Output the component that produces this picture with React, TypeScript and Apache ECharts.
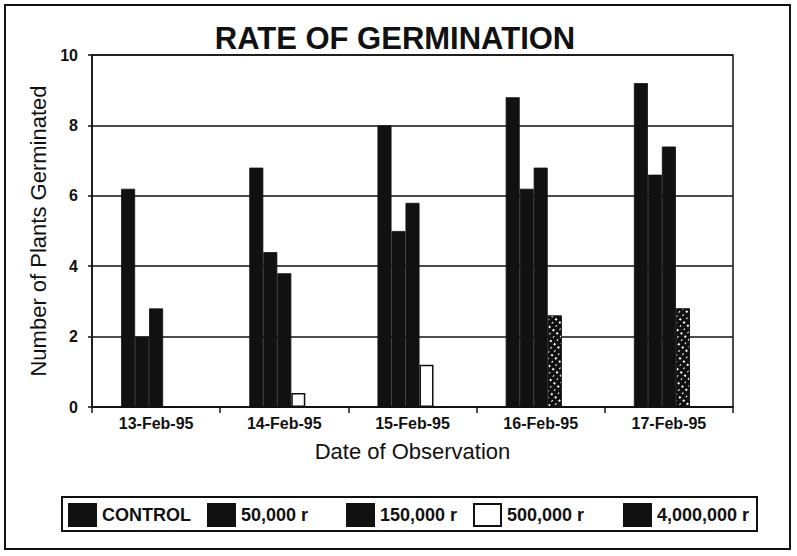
import React, { useEffect, useRef } from "react";
import * as echarts from "echarts";

const dates = ["13-Feb-95", "14-Feb-95", "15-Feb-95", "16-Feb-95", "17-Feb-95"];
const seriesNames = ["CONTROL", "50,000 r", "150,000 r", "500,000 r", "4,000,000 r"];
const control = [6.2, 6.8, 8.0, 8.8, 9.2];
const dose50k = [2.0, 4.4, 5.0, 6.2, 6.6];
const dose150k = [2.8, 3.8, 5.8, 6.8, 7.4];
const dose500k = [0, 0.4, 1.2, 2.6, 2.8];
const dose4m = [0, 0, 0, 0, 0];
const yTicks = [0, 2, 4, 6, 8, 10];
const legendLeft = [68, 207, 346, 473, 623];

const INK = "#111111";
const FONT = "'Liberation Sans', Arial, sans-serif";

export default function App() {
  const ref = useRef<HTMLDivElement>(null);

  useEffect(() => {
    if (!ref.current) return;
    const chart = echarts.init(ref.current, undefined, { renderer: "svg" });

    const solid = { color: INK, borderColor: INK, borderWidth: 0.8 };
    // dark fill flecked with white for the later 500,000 r readings
    const speckle = {
      color: INK,
      borderColor: INK,
      borderWidth: 0.8,
      decal: {
        symbol: "rect",
        symbolSize: 1,
        color: "#ffffff",
        dashArrayX: [[2, 3], [1, 4]],
        dashArrayY: [2, 3],
        rotation: 0.7,
      },
    };

    const series500k = dose500k.map((v, i) =>
      i >= 3 ? { value: v, itemStyle: speckle } : { value: v }
    );

    const bar = (name: string, data: any[], itemStyle: any) => ({
      type: "bar",
      name,
      data,
      barWidth: 14,
      barGap: "0%",
      itemStyle,
    });

    chart.setOption({
      animation: false,
      backgroundColor: "#ffffff",
      aria: { enabled: true, decal: { show: false } },
      title: {
        text: "RATE OF GERMINATION",
        left: 390,
        top: 18,
        textAlign: "center",
        textStyle: { fontFamily: FONT, fontSize: 31, fontWeight: "bold", color: INK },
      },
      legend: seriesNames.map((n, i) => ({
        data: [n],
        left: legendLeft[i],
        top: 503,
        padding: 0,
        icon: "rect",
        itemWidth: 27,
        itemHeight: 22,
        selectedMode: false,
        textStyle: { fontFamily: FONT, fontSize: 18, fontWeight: "bold", color: INK, padding: [0, 0, 0, 1] },
      })),
      grid: {
        left: 92,
        right: 64,
        top: 55,
        bottom: 149,
        show: true,
        borderColor: INK,
        borderWidth: 1.5,
      },
      xAxis: {
        type: "category",
        data: dates,
        name: "Date of Observation",
        nameLocation: "middle",
        nameGap: 33,
        nameTextStyle: { fontFamily: FONT, fontSize: 22, color: INK },
        axisLine: { lineStyle: { color: INK, width: 1.5 } },
        axisTick: { show: true, length: 6, lineStyle: { color: INK, width: 1.5 } },
        axisLabel: { fontFamily: FONT, fontSize: 16, fontWeight: "bold", color: INK, margin: 8 },
      },
      yAxis: {
        type: "value",
        min: 0,
        max: 10,
        interval: 2,
        name: "Number of Plants Germinated",
        nameLocation: "middle",
        nameGap: 43,
        nameTextStyle: { fontFamily: FONT, fontSize: 22, color: INK },
        axisLine: { show: true, lineStyle: { color: INK, width: 1.5 } },
        axisTick: { show: true, length: 4, lineStyle: { color: INK, width: 1.5 } },
        axisLabel: {
          fontFamily: FONT,
          fontSize: 16,
          fontWeight: "bold",
          color: INK,
          margin: 14,
          formatter: (v: number) => (yTicks.includes(v) ? String(v) : ""),
        },
        splitLine: { show: true, lineStyle: { color: INK, width: 1.5 } },
      },
      series: [
        bar(seriesNames[0], control, solid),
        bar(seriesNames[1], dose50k, solid),
        bar(seriesNames[2], dose150k, solid),
        bar(seriesNames[3], series500k, { color: "#ffffff", borderColor: INK, borderWidth: 1.5 }),
        bar(seriesNames[4], dose4m, solid),
      ],
      graphic: [
        {
          type: "rect",
          shape: { x: 5, y: 5, width: 785, height: 544 },
          style: { fill: "none", stroke: INK, lineWidth: 2 },
          silent: true,
        },
        {
          type: "rect",
          shape: { x: 62, y: 497, width: 695, height: 34 },
          style: { fill: "none", stroke: INK, lineWidth: 2 },
          silent: true,
        },
      ],
    });

    return () => chart.dispose();
  }, []);

  return (
    <div
      ref={ref}
      style={{ position: "fixed", left: 0, top: 0, width: 797, height: 556, background: "#fff" }}
    />
  );
}
